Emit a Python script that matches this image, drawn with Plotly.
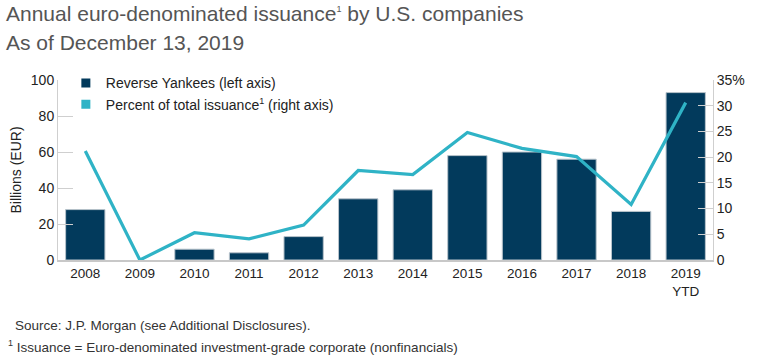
import plotly.graph_objects as go

categories = ["2008", "2009", "2010", "2011", "2012", "2013", "2014",
              "2015", "2016", "2017", "2018", "2019<br>YTD"]
reverse_yankees = [28, 0, 6, 4, 13, 34, 39, 58, 60, 56, 27, 93]
percent_total = [21.2, 0, 5.3, 4.1, 6.8, 17.4, 16.6, 24.8, 21.7, 20.1, 10.8, 30.6]
left_ticks = [0, 20, 40, 60, 80, 100]
right_ticks = [0, 5, 10, 15, 20, 25, 30, 35]
right_ticktext = ["0", "5", "10", "15", "20", "25", "30", "35%"]

NAVY = "#023a5c"
TEAL = "#2fb3c6"
FONT = "Liberation Sans, Arial, sans-serif"
SUP1 = "<sup><span style='font-size:9px'>1</span></sup>"

fig = go.Figure()
fig.add_trace(go.Bar(
    x=categories, y=reverse_yankees,
    marker=dict(color=NAVY, line=dict(color="#b9c4cc", width=[1 if v > 0 else 0 for v in reverse_yankees])),
    showlegend=False, yaxis="y"))
fig.add_trace(go.Scatter(
    x=categories, y=percent_total, mode="lines", line=dict(color=TEAL, width=3.2),
    showlegend=False, yaxis="y2"))
# legend entries
fig.add_trace(go.Scatter(x=[None], y=[None], mode="markers", name="Reverse Yankees (left axis)",
                         marker=dict(symbol="square", size=9, color=NAVY)))
fig.add_trace(go.Scatter(x=[None], y=[None], mode="markers",
                         name="Percent of total issuance" + SUP1 + " (right axis)",
                         marker=dict(symbol="square", size=9, color=TEAL)))

fig.update_layout(
    width=759, height=358,
    margin=dict(l=58, r=46, t=80, b=98),
    paper_bgcolor="white", plot_bgcolor="white",
    font=dict(family=FONT, size=13, color="#222"),
    bargap=0.28,
    showlegend=True,
    legend=dict(x=0.012, y=1.07, xanchor="left", yanchor="top", bgcolor="rgba(0,0,0,0)",
                font=dict(size=14, color="#222"), itemwidth=30, tracegroupgap=0),
    xaxis=dict(type="category", showgrid=False, showline=True, linecolor="#c8c8c8", linewidth=1.5,
               ticks="", tickfont=dict(size=13.5, color="#222")),
    yaxis=dict(range=[0, 100], tickvals=left_ticks, showgrid=False, showline=True,
               linecolor="#cfcfcf", linewidth=1, ticks="inside", ticklen=15, tickcolor="#cfcfcf",
               tickfont=dict(size=14, color="#222"), zeroline=False,
               title=dict(text="Billions (EUR)", font=dict(size=14, color="#222"), standoff=5)),
    yaxis2=dict(range=[0, 35], tickvals=right_ticks, ticktext=right_ticktext, overlaying="y",
                side="right", showgrid=False, showline=True, linecolor="#cfcfcf", linewidth=1,
                ticks="inside", ticklen=15, tickcolor="#cfcfcf", zeroline=False,
                tickfont=dict(size=14, color="#222")),
)

fig.add_annotation(text="Annual euro-denominated issuance" + SUP1 + " by U.S. companies",
                   xref="paper", yref="paper", x=-0.083, y=1.0, xanchor="left", yanchor="bottom",
                   yshift=53, showarrow=False, font=dict(size=21, color="#555", family=FONT), align="left")
fig.add_annotation(text="As of December 13, 2019",
                   xref="paper", yref="paper", x=-0.083, y=1.0, xanchor="left", yanchor="bottom",
                   yshift=24, showarrow=False, font=dict(size=21, color="#555", family=FONT), align="left")
fig.add_annotation(text="Source: J.P. Morgan (see Additional Disclosures).",
                   xref="paper", yref="paper", x=-0.068, y=0, xanchor="left", yanchor="top",
                   yshift=-56, showarrow=False, font=dict(size=13.5, color="#333", family=FONT), align="left")
fig.add_annotation(text="<sup><span style='font-size:9px'>1</span></sup> Issuance = Euro-denominated investment-grade corporate (nonfinancials)",
                   xref="paper", yref="paper", x=-0.08, y=0, xanchor="left", yanchor="top",
                   yshift=-76, showarrow=False, font=dict(size=13.5, color="#333", family=FONT), align="left")

fig.write_html("out.html", config={"displayModeBar": False},
               post_script="document.body.style.margin='0px';")
